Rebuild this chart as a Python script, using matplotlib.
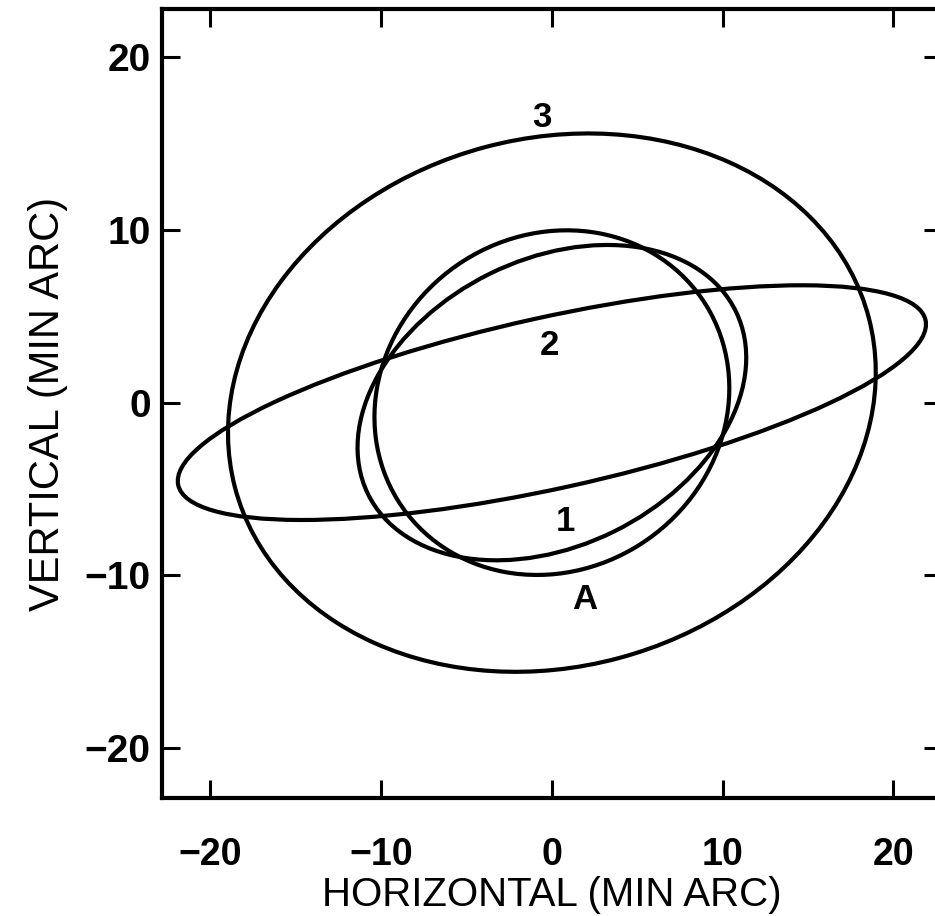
import numpy as np
import matplotlib.pyplot as plt
from matplotlib.patches import Ellipse

# ellipse parameters (min arc), all centred on the origin
names = ['3', '2', '1', 'A']
semi_major = [19.2, 22.4, 12.0, 10.65]
semi_minor = [15.3, 4.95, 8.3, 9.7]
tilt_deg = [14.8, 12.3, 26.0, 32.0]

# where each curve's label sits
label_x = [-0.6, -0.15, 0.8, 1.95]
label_y = [16.5, 3.3, -6.9, -11.4]

ticks = [-20, -10, 0, 10, 20]
tick_labels = ['\u221220', '\u221210', '0', '10', '20']

plt.rcParams['font.family'] = ['Liberation Sans', 'DejaVu Sans']

fig = plt.figure(figsize=(9.35, 9.16), dpi=100)
ax = fig.add_axes([0.173, 0.129, 0.8345, 0.861])

for a, b, t in zip(semi_major, semi_minor, tilt_deg):
    ax.add_patch(Ellipse((0, 0), 2 * a, 2 * b, angle=t, fill=False,
                         edgecolor='black', lw=3.0))

for name, lx, ly in zip(names, label_x, label_y):
    ax.text(lx, ly, name, fontsize=25, fontweight='bold', ha='center', va='center')

ax.set_xlim(-22.85, 22.85)
ax.set_ylim(-22.88, 22.78)
ax.set_xticks(ticks)
ax.set_yticks(ticks)
ax.set_xticklabels(tick_labels, fontsize=27, fontweight='bold')
ax.set_yticklabels(tick_labels, fontsize=28, fontweight='bold')
ax.tick_params(axis='both', direction='in', length=13, width=2.2,
               top=True, right=True)
ax.tick_params(axis='x', pad=28)
ax.tick_params(axis='y', pad=8)
for s in ax.spines.values():
    s.set_linewidth(3.0)

ax.set_xlabel('HORIZONTAL (MIN ARC)', fontsize=29, labelpad=2)
ax.set_ylabel('VERTICAL (MIN ARC)', fontsize=30, labelpad=12)

fig.savefig('out.png', dpi=100)
